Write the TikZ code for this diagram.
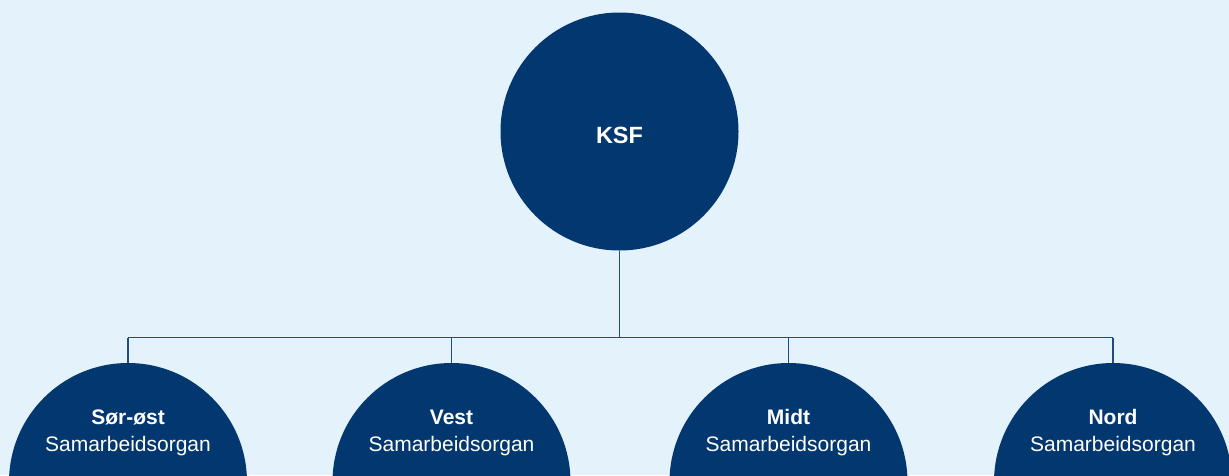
\documentclass[tikz,border=0pt]{standalone}
\usepackage{fontspec}
\setmainfont{Liberation Sans}
\definecolor{bgblue}{HTML}{E4F2FC}
\definecolor{navy}{HTML}{03376F}
\definecolor{linecol}{HTML}{1E4D80}
\begin{document}
\begin{tikzpicture}[x=1pt,y=-1pt,
  bigcirc/.style={circle,fill=navy,draw=none,minimum size=238pt,inner sep=0pt},
  lbl/.style={text=white,anchor=base,inner sep=0pt},
  conn/.style={draw=linecol,line width=1.3pt}]
\useasboundingbox (0,0) rectangle (1229,475);
\clip (0,0) rectangle (1229,475);
\fill[bgblue] (0,0) rectangle (1229,475);
% circles
\node[bigcirc] (ksf) at (619.5,131.5) {};
\node[bigcirc] (s1) at (128,482) {};
\node[bigcirc] (s2) at (451.5,482) {};
\node[bigcirc] (s3) at (788.5,482) {};
\node[bigcirc] (s4) at (1113,482) {};
% texts
\node[lbl,font=\fontsize{23.5}{28}\selectfont\bfseries] (tksf) at (619.5,143.3) {KSF};
\node[lbl,font=\fontsize{21}{25}\selectfont\bfseries] (t1a) at (128,424) {Sør-øst};
\node[lbl,font=\fontsize{21}{25}\selectfont] (t1b) at (128,451) {Samarbeidsorgan};
\node[lbl,font=\fontsize{21}{25}\selectfont\bfseries] (t2a) at (451.5,424) {Vest};
\node[lbl,font=\fontsize{21}{25}\selectfont] (t2b) at (451.5,451) {Samarbeidsorgan};
\node[lbl,font=\fontsize{21}{25}\selectfont\bfseries] (t3a) at (788.5,424) {Midt};
\node[lbl,font=\fontsize{21}{25}\selectfont] (t3b) at (788.5,451) {Samarbeidsorgan};
\node[lbl,font=\fontsize{21}{25}\selectfont\bfseries] (t4a) at (1113,424) {Nord};
\node[lbl,font=\fontsize{21}{25}\selectfont] (t4b) at (1113,451) {Samarbeidsorgan};
% connectors
\coordinate (bus) at (619.5,337.5);
\draw[conn] (ksf.south) -- (ksf.south |- bus);
\draw[conn] (s1.north |- bus) -- (s4.north |- bus);
\draw[conn] (s1.north |- bus) -- (s1.north);
\draw[conn] (s2.north |- bus) -- (s2.north);
\draw[conn] (s3.north |- bus) -- (s3.north);
\draw[conn] (s4.north |- bus) -- (s4.north);
\end{tikzpicture}
\end{document}
